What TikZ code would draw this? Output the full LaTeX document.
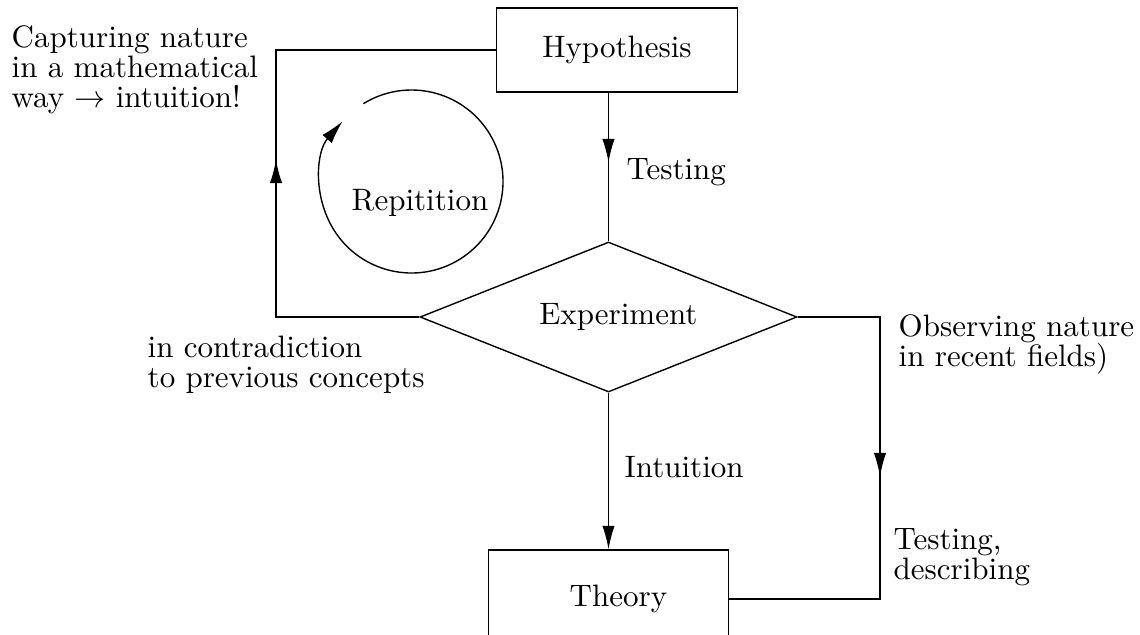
\documentclass[tikz,border=0pt]{standalone}
\usepackage{amsmath}
\usetikzlibrary{arrows.meta, positioning, shapes.geometric, decorations.markings}

\begin{document}
\begin{tikzpicture}[
    x=0.3226pt, y=0.3226pt,
    font=\fontsize{10pt}{9.7pt}\selectfont,
    line width=0.45pt,
    block/.style={draw, minimum width=77.6pt, minimum height=27.1pt},
    decision/.style={draw, diamond, aspect=2.5, inner sep=0pt, minimum width=121.6pt, minimum height=48.4pt},
    note/.style={inner sep=0pt, align=left, anchor=west},
    textshift/.style={execute at begin node={\hspace*{6.4pt}}},
    arrow/.style={-{Latex[length=7.6pt, width=4pt]}},
    midarrow/.style={postaction={decorate}, decoration={markings, mark=at position #1 with {\arrow{Latex[length=7.6pt, width=4pt]}}}}
]
\useasboundingbox (0,0) rectangle (1140,634);
\clip (0,0) rectangle (1140,634);

\node[block] (hyp) at (617,584) {Hypothesis};
\node[decision, textshift] (exp) at (608.5,317) {Experiment};
\node[block, textshift, minimum height=31.6pt] (theory) at (608.5,35) {Theory};

% the loop
\coordinate (loop) at (411.5,452.5);
\node (rep) at (420,431) {Repitition};
\draw[arrow] ([shift={(121.7:29.52pt)}]loop) arc[start angle=121.7, end angle=-221.2, radius=29.52pt];

% labels
\node[note] (testing) at (626,462) {Testing};
\node[note] (intuition) at (624,167) {Intuition};
\node[note] (capture) at (11,564) {Capturing nature\\in a mathematical\\way $\rightarrow$ intuition!};
\node[note] (contra) at (147,269) {in contradiction\\to previous concepts};
\node[note] (observe) at (898,290) {Observing nature\\in recent fields)};
\node[note] (describe) at (893,77) {Testing,\\describing};

\coordinate (lft) at (276,317);
\coordinate (rgt) at (880,317);

\draw[midarrow=22.5pt] (hyp.south -| exp.north) -- (exp.north);
\draw[arrow] (exp.south) -- (theory.north);
\draw[midarrow=97pt] (exp.west) -- (lft) |- (hyp.west);
\draw[midarrow=78pt] (exp.east) -- (rgt) |- (theory.east);
\end{tikzpicture}
\end{document}
